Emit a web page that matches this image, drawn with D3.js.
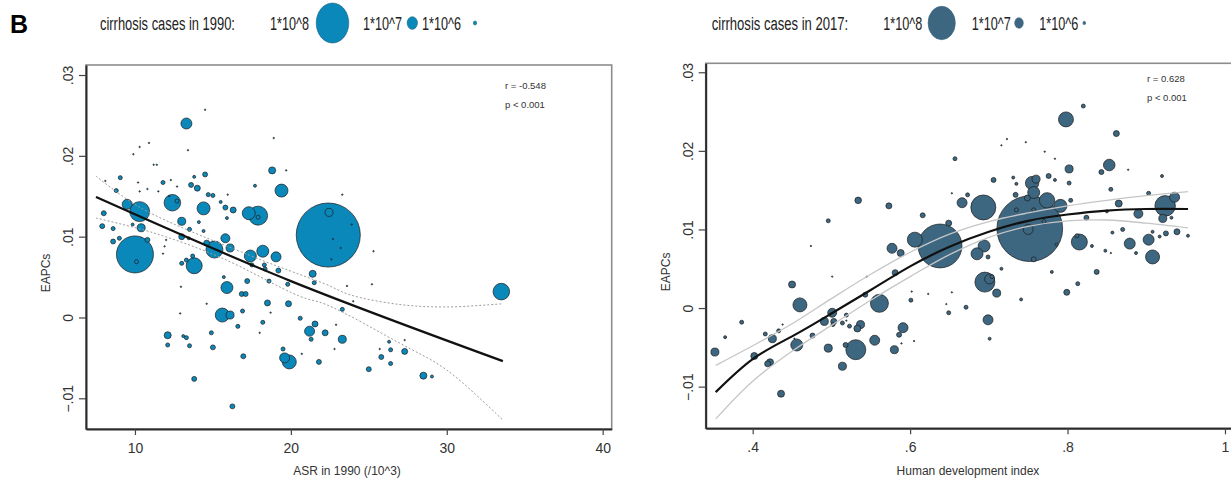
<!DOCTYPE html>
<html>
<head>
<meta charset="utf-8">
<script src="https://cdn.jsdelivr.net/npm/d3@7"></script>
<style>
  body { margin: 0; background: #fff; }
  text { font-family: "Liberation Sans", Arial, sans-serif; }
</style>
</head>
<body>
<script>

// ---- panel 1 : ASR 1990 vs EAPC, bubble = cirrhosis cases 1990
const asr1990 = [14.5,13.3,13.4,18.9,10.3,10.9,9.9,11.2,11.4,18.8,19.7,9.06,14.5,13.8,11.8,13.6,14.0,17.7,19.4,8.8,
  8.1,14.7,15.0,9.5,10.3,12.4,15.5,15.8,16.3,14.4,17.3,17.9,8.0,15.9,13.0,14.1,10.4,7.9,8.6,9.85,
  13.5,14.4,13.0,15.8,8.6,9.0,10.8,14.6,15.1,16.1,17.4,18.2,19.05,10.0,13.8,13.0,13.3,13.7,17.5,18.3,
  18.35,19.2,21.4,21.5,18.6,19.8,17.2,15.7,15.9,16.85,17.1,18.5,19.85,14.6,12.95,15.6,16.1,16.9,12.9,18.2,
  16.6,18.0,20.6,12.1,12.1,13.1,13.3,14.9,13.5,15.0,16.95,19.5,19.6,19.9,20.7,13.8,16.25,22.4,22.45,23.3,
  25.3,33.5,23.6,25.2,24.0,23.3,21.55,21.2,21.3,22.2,23.3,22.9,22.8,21.8,26.3,27.3,26.4,25.7,27.3,25.8,
  25.0,26.4,28.5,29.05,10.1,12.7,17.9,23.9,22.7,23.2,22.6,10.2,10.3,10.8,11.5,12.3,12.7,15.95,12.2,11.9,
  11.8,12.0,18.7,13.45];
const eapc1990 = [0.0257,0.0240,0.0207,0.0222,0.0211,0.0216,0.0202,0.0189,0.0189,0.0182,0.0182,0.0173,0.0177,0.0174,0.0167,0.0164,0.0160,0.0163,0.0157,0.0157,
  0.0169,0.0152,0.0151,0.0140,0.0131,0.0142,0.0143,0.0136,0.0133,0.0135,0.0129,0.0126,0.0129,0.0123,0.0119,0.0118,0.0111,0.0113,0.0110,0.0115,
  0.0109,0.0107,0.0100,0.0098,0.0094,0.0098,0.0096,0.0092,0.0084,0.0086,0.0076,0.0082,0.0075,0.0078,0.0064,0.0067,0.0071,0.0076,0.0065,0.0065,
  0.0060,0.0058,0.0054,0.0043,0.0045,0.0041,0.0045,0.0050,0.0037,0.0029,0.0029,0.0018,0.0017,0.0017,0.0038,0.0003,0.0003,0.0008,0.0005,-0.0006,
  -0.0011,-0.0019,-0.0001,-0.0022,-0.0034,-0.0023,-0.0025,-0.0019,-0.0035,-0.0037,-0.0048,-0.0039,-0.0050,-0.0055,-0.0045,-0.0076,-0.0110,0.0102,0.0130,0.0152,
  0.0082,0.0032,0.0039,0.0041,0.0020,0.0010,-0.0008,-0.0017,-0.0027,-0.0019,-0.0027,-0.0009,-0.0039,-0.0055,-0.0030,-0.0028,-0.0040,-0.0039,-0.0042,-0.0049,
  -0.0064,-0.0057,-0.0072,-0.0073,0.0069,0.0144,0.0124,0.0115,0.0097,0.0086,0.0072,0.0167,0.0156,0.0159,0.0156,0.0170,0.0162,0.0152,0.0150,0.0088,
  0.0079,0.0096,0.0006,0.0098];
const cases1990 = [1.5e5,8.8e6,1.5e5,1.5e5,1.5e5,1.5e5,1.5e5,1.5e5,1.5e5,3.6e6,1.5e5,1.2e6,1.8e6,6.6e5,1.2e6,1.8e6,2.6e6,6.6e5,1.23e7,1.2e6,
  1.5e5,1.2e6,1.2e6,7.3e6,2.9e7,2.0e7,6.6e5,1.8e6,2.6e6,1.23e7,1.23e7,2.64e7,1.8e6,6.6e5,4.7e6,6.6e5,4.7e6,1.8e6,1.2e6,6.6e5,
  1.2e6,6.6e5,2.6e6,5.9e6,1.8e6,1.2e6,1.8e6,2.6e6,2.1e7,4.7e6,1.05e7,1.05e7,7.3e6,1.0e8,1.87e7,1.2e6,1.2e6,1.2e6,1.2e6,1.2e6,
  1.2e6,1.8e6,3.6e6,1.2e6,1.2e6,1.2e6,1.8e6,6.6e5,1.05e7,1.8e6,1.8e6,2.6e6,2.6e6,1.5e5,1.5e5,1.43e7,4.7e6,1.2e6,1.5e5,1.2e6,
  1.2e6,1.5e5,1.2e6,3.6e6,1.2e6,6.6e5,1.2e6,1.2e6,1.2e6,1.8e6,1.8e6,1.2e6,7.3e6,1.43e7,1.5e5,1.8e6,1.8e6,3.0e8,4.7e6,1.5e5,
  1.5e5,2.0e7,1.5e5,1.5e5,1.5e5,1.2e6,2.6e6,7.3e6,1.2e6,2.6e6,4.7e6,1.5e5,1.5e5,1.8e6,6.6e5,1.5e5,1.2e6,1.5e5,2.6e6,1.8e6,
  1.8e6,1.2e6,3.6e6,6.6e5,1.2e6,1.2e6,1.2e6,1.5e5,1.5e5,1.5e5,1.5e5,1.5e5,1.5e5,1.5e5,1.5e5,1.5e5,1.5e5,1.5e5,1.5e5,1.5e5,
  1.5e5,1.5e5,1.5e5,6.6e5];

// fitted line and band
const fit1X = [7.5, 20, 33.6];
const fit1Y = [0.0149, 0.0045, -0.0054];
const up1X = [7.5, 10.34, 17.34, 20.6, 22.26, 23.8, 27, 30, 33.6];
const up1Y = [0.0175, 0.0136, 0.0077, 0.0053, 0.0041, 0.0028, 0.0016, 0.0013, 0.0017];
const lo1X = [7.5, 11.14, 15.41, 20.6, 22.26, 27, 30, 33.6];
const lo1Y = [0.0123, 0.0105, 0.0075, 0.0026, 0.0016, -0.0032, -0.0065, -0.0127];

// ---- panel 2 : HDI vs EAPC, bubble = cirrhosis cases 2017
const hdi = [0.534,0.573,0.496,0.616,0.474,0.606,0.577,0.588,0.581,0.545,0.501,0.450,0.543,0.460,0.561,0.601,0.602,0.623,0.386,0.365,
  0.352,0.402,0.425,0.416,0.433,0.438,0.419,0.422,0.436,0.456,0.453,0.476,0.491,0.501,0.503,0.502,0.514,0.519,0.519,0.523,
  0.533,0.537,0.496,0.518,0.531,0.514,0.555,0.580,0.591,0.586,0.589,0.605,0.820,0.798,0.862,0.716,0.723,0.747,0.771,0.784,
  0.657,0.853,0.843,0.877,0.802,0.706,0.735,0.731,0.760,0.755,0.757,0.776,0.784,0.802,0.855,0.903,0.920,0.653,0.673,0.666,
  0.693,0.734,0.774,0.791,0.804,0.749,0.735,0.757,0.770,0.750,0.752,0.824,0.850,0.865,0.890,0.924,0.936,0.921,0.932,0.953,
  0.939,0.925,0.917,0.908,0.903,0.870,0.857,0.879,0.908,0.815,0.812,0.848,0.855,0.887,0.831,0.786,0.694,0.685,0.699,0.649,
  0.757,0.638,0.695,0.701,0.710,0.704,0.716,0.780,0.837,0.813,0.799,0.741,0.699,0.701,0.671,0.649,0.653,0.646];
const eapc2017 = [0.0137,0.0130,0.0111,0.0118,0.0079,0.0087,0.0076,0.0070,0.0045,0.0040,0.0040,0.0030,0.0017,0.0004,0.0006,0.0010,0.0021,0.0018,-0.0018,-0.0037,
  -0.0056,-0.0061,-0.0039,-0.0033,-0.0029,-0.0021,-0.0071,-0.0069,-0.0109,-0.0047,-0.0039,-0.0035,-0.0017,-0.0006,-0.0017,-0.0021,-0.0019,-0.0009,-0.0016,-0.0023,
  -0.0026,-0.0021,-0.0051,-0.0047,-0.0053,-0.0074,-0.0041,-0.0053,-0.0025,-0.0034,-0.0045,-0.0042,0.0257,0.0240,0.0222,0.0207,0.0215,0.0211,0.0199,0.0190,
  0.0190,0.0182,0.0173,0.0176,0.0177,0.0163,0.0158,0.0166,0.0164,0.0159,0.0147,0.0168,0.0163,0.0159,0.0151,0.0146,0.0168,0.0146,0.0144,0.0134,
  0.0128,0.0144,0.0137,0.0130,0.0137,0.0140,0.0125,0.0125,0.0110,0.0100,0.0101,0.0115,0.0123,0.0133,0.0120,0.0130,0.0141,0.0114,0.0115,0.0092,
  0.0097,0.0095,0.0091,0.0097,0.0087,0.0100,0.0096,0.0082,0.0065,0.0084,0.0092,0.0073,0.0070,0.0070,0.0079,0.0081,0.0079,0.0069,0.0065,0.0108,
  0.0062,0.0079,0.0033,0.0037,0.0019,0.0040,0.0050,0.0046,0.0046,0.0031,0.0020,0.0011,-0.0015,-0.0039,0.0001,-0.0006,0.0020,0.0005];
const cases2017 = [4.5e6,3.75e6,1.66e6,2.6e6,2e5,2.34e7,1.04e7,5.1e6,3.75e6,2e5,2e5,5.1e6,2.6e6,2.04e7,3.37e7,1.66e6,2e5,2e5,1.66e6,9.4e5,
  6.7e6,5.1e6,6.7e6,1.66e6,1.66e6,2e5,3.75e6,5.1e6,5.1e6,1.5e7,2e5,2.6e6,6.7e6,8.4e6,3.75e6,1.66e6,1.66e6,1.66e6,2e5,1.66e6,
  5.1e6,6.7e6,6.7e6,2.6e6,4.16e7,6.7e6,1.04e7,6.7e6,1.04e7,2.6e6,2e5,2e5,1.66e6,2.34e7,3.75e6,2e5,2e5,2e5,2e5,2e5,
  1.66e6,1.4e7,2.6e6,2e5,6.7e6,2.6e6,9.4e5,9.4e5,6.7e6,1.87e7,1.5e7,2.6e6,9.4e5,1.66e6,1.66e6,1.66e6,9.4e5,2e5,1.66e6,1.04e7,
  6.5e7,2.6e6,2.47e7,1.76e7,1.66e6,3.75e6,1.66e6,1.66e6,1.66e6,1.04e7,4.5e8,2.6e6,9.4e5,5.1e6,8.4e6,4.4e7,1.04e7,6.7e6,9.4e5,9.4e5,
  3.75e6,2.6e6,9.4e5,9.4e5,1.26e7,1.66e6,9.4e5,1.26e7,2.04e7,2.66e7,1.66e6,9.4e5,2e5,9.4e5,9.4e5,9.4e5,1.5e7,1.5e7,1.66e6,3.75e6,
  2.6e6,2.0e8,4.16e7,1.04e7,6.7e6,1.66e6,9.4e5,9.4e5,2.6e6,1.66e6,3.75e6,9.4e5,1.04e7,9.4e5,1.66e6,1.66e6,2e5,2e5];

const fit2X = [0.353,0.40,0.45,0.50,0.55,0.60,0.65,0.70,0.75,0.80,0.85,0.90,0.953];
const fit2Y = [-0.0107,-0.0065,-0.0036,-0.0007,0.0023,0.0053,0.0078,0.0097,0.0111,0.0119,0.0124,0.0126,0.0126];
const up2Y = [-0.0073,-0.0048,-0.0020,0.0012,0.0043,0.0071,0.0094,0.0110,0.0121,0.0130,0.0137,0.0143,0.0148];
const lo2Y = [-0.0141,-0.0093,-0.0055,-0.0022,0.0010,0.0040,0.0068,0.0090,0.0104,0.0111,0.0112,0.0108,0.0102];

const legendLabels = ['1*10^8', '1*10^7', '1*10^6'];
const legendCases = [1e8, 1e7, 1e6];
const yTicks = [-0.01, 0, 0.01, 0.02, 0.03];

const width = 1231, height = 479;

var svg = d3.select('body').append('svg')
    .attr('width', width)
    .attr('height', height);

svg.append('rect').attr('width', width).attr('height', height).attr('fill', '#fff');

svg.append('text')
    .attr('x', 10).attr('y', 33)
    .attr('font-size', 25).attr('font-weight', 'bold')
    .text('B');

function fmtY(d) {
    return d === 0 ? '0' : d3.format('.2f')(d).replace('0.', '.');
}

// the legend lettering in the figure is narrow: squeeze it sideways to a given width
function narrowText(parent, str, x, y, w) {
    var t = parent.append('text')
        .attr('font-size', 18).attr('fill', '#222')
        .text(str);
    let n = t.node().getComputedTextLength();
    t.attr('transform', 'translate(' + x + ',' + y + ') scale(' + (w / n) + ',1)');
    return t;
}

function drawPanel(p) {
    let xScale = d3.scaleLinear().domain(p.xDomain).range([p.left, p.right]);
    let yScale = d3.scaleLinear().domain(p.yDomain).range([p.bottom, p.top]);
    let rScale = d3.scaleSqrt().domain([0, 1e8]).range([0, p.rMax]);

    var g = svg.append('g');

    // frame
    g.append('rect')
        .attr('x', p.left).attr('y', p.top)
        .attr('width', p.right - p.left).attr('height', p.bottom - p.top)
        .attr('fill', 'none').attr('stroke', '#8c8c8c').attr('stroke-width', 1.6);

    // bubbles, largest first so the small ones stay on top
    var pts = p.xs.map((x, i) => ({x: x, y: p.ys[i], c: p.cs[i]}))
        .sort((a, b) => b.c - a.c);
    g.selectAll('circle.dot')
        .data(pts)
        .enter()
        .append('circle')
        .attr('class', 'dot')
        .attr('cx', d => xScale(d.x))
        .attr('cy', d => yScale(d.y))
        .attr('r', d => rScale(d.c))
        .attr('fill', p.color)
        .attr('stroke', '#1b1b1b')
        .attr('stroke-width', 0.7);

    let line = d3.line()
        .x(d => xScale(d[0]))
        .y(d => yScale(d[1]))
        .curve(d3.curveCatmullRom);

    p.bands.forEach(b => {
        g.append('path')
            .attr('d', line(b[0].map((x, i) => [x, b[1][i]])))
            .attr('fill', 'none')
            .attr('stroke', p.bandColor)
            .attr('stroke-width', p.bandWidth)
            .attr('stroke-dasharray', p.bandDash);
    });
    g.append('path')
        .attr('d', line.curve(d3.curveNatural)(p.fitX.map((x, i) => [x, p.fitY[i]])))
        .attr('fill', 'none')
        .attr('stroke', '#111')
        .attr('stroke-width', 2.2);

    // axes
    let yAxis = d3.axisLeft(yScale).tickValues(yTicks).tickSize(7).tickSizeOuter(0).tickFormat(fmtY);
    let xAxis = d3.axisBottom(xScale).tickValues(p.xTicks).tickSize(6).tickSizeOuter(0).tickFormat(p.xFormat);

    var ya = g.append('g')
        .attr('transform', 'translate(' + p.left + ',0)')
        .call(yAxis);
    ya.selectAll('text')
        .attr('transform', 'rotate(-90)')
        .attr('x', 0).attr('y', -13).attr('dy', 0)
        .attr('text-anchor', 'middle');

    var xa = g.append('g')
        .attr('transform', 'translate(0,' + p.bottom + ')')
        .call(xAxis);
    xa.selectAll('text').attr('y', 24).attr('dy', 0);

    [ya, xa].forEach(a => {
        a.select('.domain').attr('stroke', '#2a2a2a').attr('stroke-width', 2);
        a.selectAll('.tick line').attr('stroke', '#444').attr('stroke-width', 1.2);
        a.selectAll('text').attr('font-size', 14).attr('fill', '#333')
            .style('font-family', '"Liberation Sans", Arial, sans-serif');
    });

    g.append('text')
        .attr('transform', 'translate(' + p.yTitleX + ',' + ((p.top + p.bottom) / 2 + 26) + ') rotate(-90)')
        .attr('text-anchor', 'middle')
        .attr('font-size', 12).attr('fill', '#333')
        .text('EAPCs');
    g.append('text')
        .attr('x', p.xTitleX).attr('y', 475)
        .attr('text-anchor', 'middle')
        .attr('font-size', 12).attr('fill', '#333')
        .text(p.xTitle);

    g.append('text').attr('x', p.statX).attr('y', p.statY)
        .attr('font-size', 9.5).attr('fill', '#333').text(p.rText);
    g.append('text').attr('x', p.statX).attr('y', p.statY + 19)
        .attr('font-size', 9.5).attr('fill', '#333').text('p < 0.001');

    // legend above the plot
    var lg = svg.append('g');
    narrowText(lg, p.leg.title, p.leg.titleX, 30, p.leg.titleW);
    legendLabels.forEach((lab, i) => {
        narrowText(lg, lab, p.leg.labelX[i], 30, 39);
        let r = rScale(legendCases[i]);
        lg.append('ellipse')
            .attr('cx', p.leg.dotX[i]).attr('cy', 23)
            .attr('rx', r * 0.88).attr('ry', r * 1.08)
            .attr('fill', p.color)
            .attr('stroke', p.leg.stroke).attr('stroke-width', 0.6);
    });
}

drawPanel({
    xs: asr1990, ys: eapc1990, cs: cases1990,
    left: 86, right: 611.7, top: 65, bottom: 429,
    xDomain: [6.86, 40.58], yDomain: [-0.0138, 0.03124],
    rMax: 18.5, color: '#0b88ba',
    xTicks: [10, 20, 30, 40], xFormat: d3.format('d'),
    fitX: fit1X, fitY: fit1Y,
    bands: [[up1X, up1Y], [lo1X, lo1Y]],
    bandColor: '#9c9c9c', bandWidth: 1, bandDash: '2,2',
    yTitleX: 50, xTitleX: 347, xTitle: 'ASR in 1990 (/10^3)',
    statX: 505, statY: 89, rText: 'r = -0.548',
    leg: {title: 'cirrhosis cases in 1990:', titleX: 100, titleW: 135,
          labelX: [270, 363, 422], dotX: [332.5, 412.3, 475], stroke: '#1d5f80'}
});

drawPanel({
    xs: hdi, ys: eapc2017, cs: cases2017,
    left: 705.7, right: 1233, top: 63.3, bottom: 428.3,
    xDomain: [0.3403, 1.0102], yDomain: [-0.0153, 0.03114],
    rMax: 15.5, color: '#3d6680',
    xTicks: [0.4, 0.6, 0.8, 1], xFormat: d => d === 1 ? '1' : d3.format('.1f')(d).replace('0.', '.'),
    fitX: fit2X, fitY: fit2Y,
    bands: [[fit2X, up2Y], [fit2X, lo2Y]],
    bandColor: '#c6c6c6', bandWidth: 1.3, bandDash: null,
    yTitleX: 670, xTitleX: 968, xTitle: 'Human development index',
    statX: 1147, statY: 82, rText: 'r = 0.628',
    leg: {title: 'cirrhosis cases in 2017:', titleX: 711.7, titleW: 136.6,
          labelX: [883.3, 971.7, 1039.3], dotX: [941.7, 1019, 1084.3], stroke: '#3d6680'}
});

</script>
</body>
</html>
